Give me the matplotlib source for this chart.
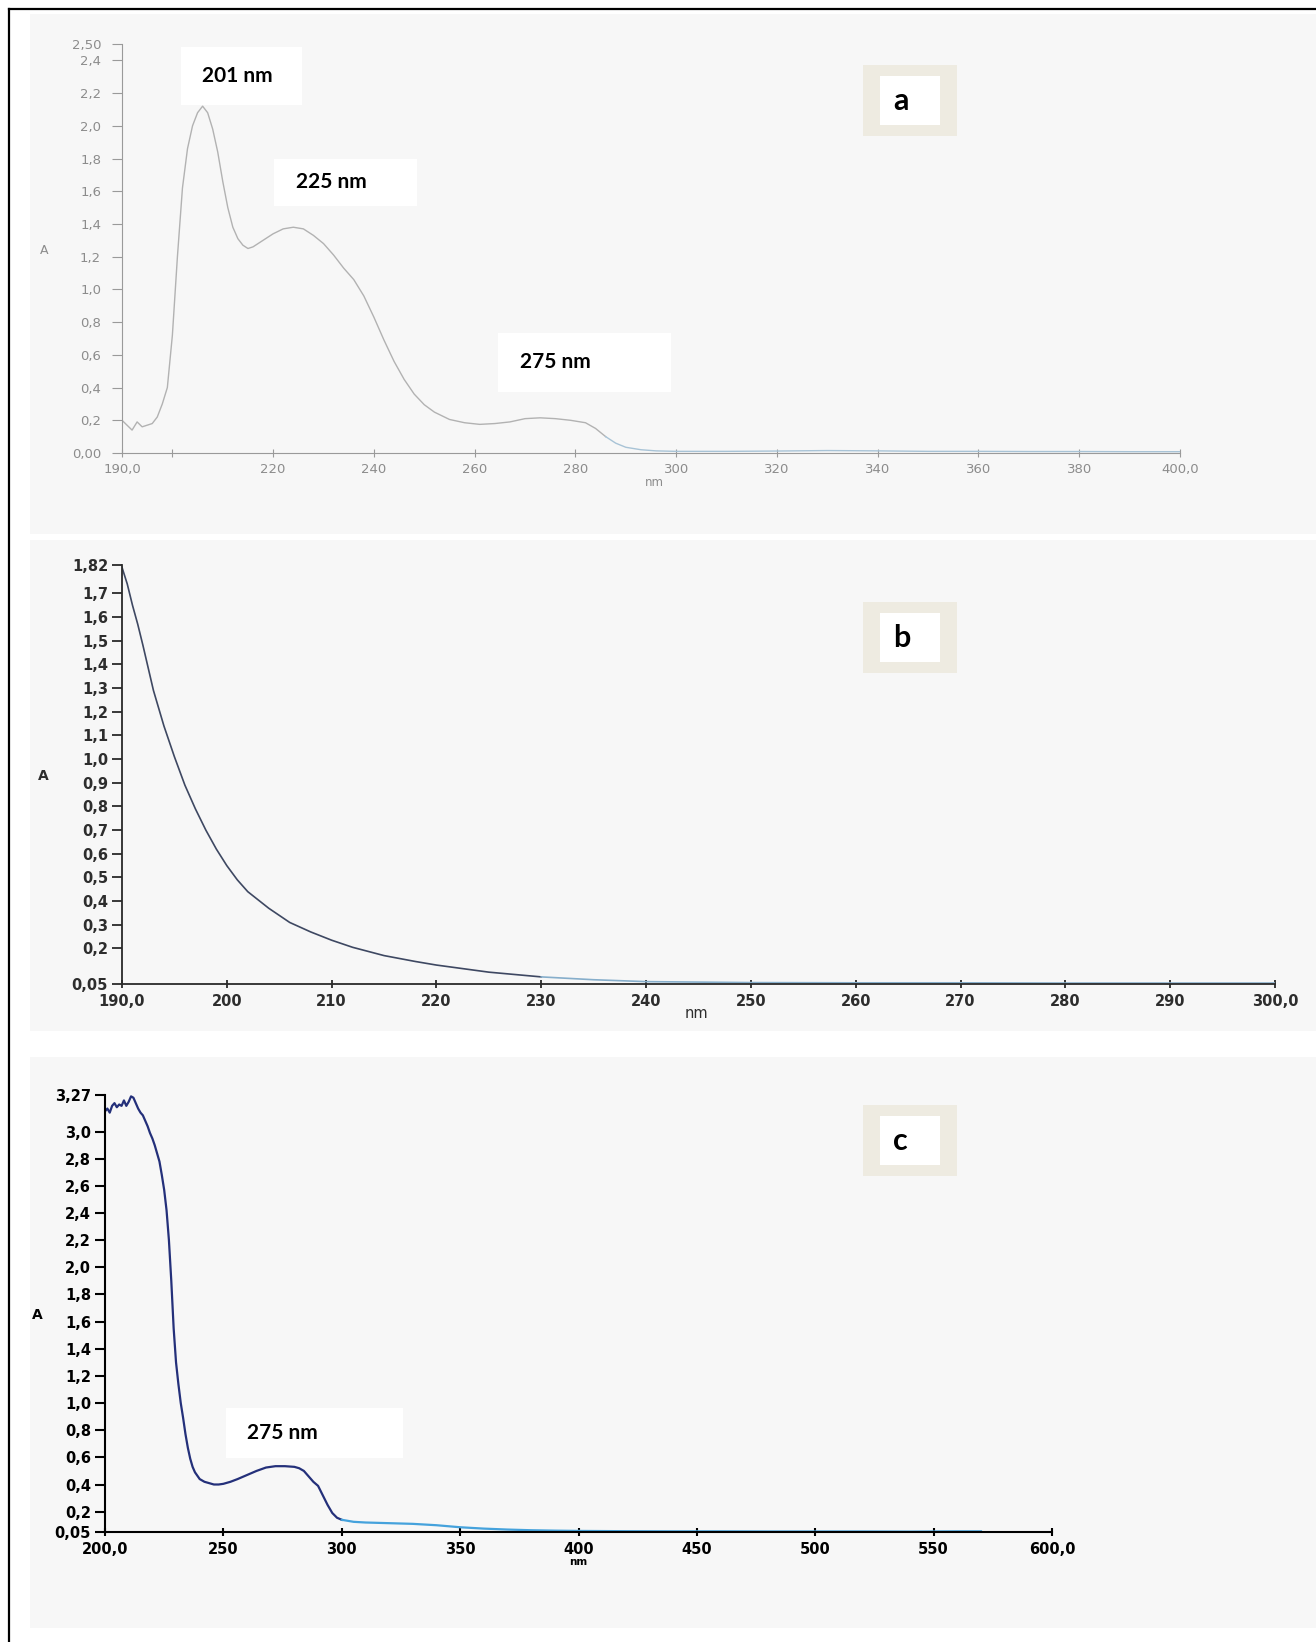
import numpy as np
import matplotlib.pyplot as plt
from matplotlib.patches import Rectangle

# ---- panel a : A vs nm, 190-400 ----
a_nm = [190, 191, 192, 193, 194, 195, 196, 197, 198, 199, 200, 201, 202, 203,
        204, 205, 206, 207, 208, 209, 210, 211, 212, 213, 214, 215, 216, 218,
        220, 222, 224, 226, 228, 230, 232, 234, 236, 238, 240, 242, 244, 246,
        248, 250, 252, 255, 258, 261, 264, 267, 270, 273, 276, 279, 282, 284,
        286, 288, 290, 293, 296, 300, 310, 320, 330, 340, 350, 360, 370, 380,
        390, 400]
a_abs = [0.20, 0.17, 0.14, 0.19, 0.16, 0.17, 0.18, 0.22, 0.30, 0.40, 0.72, 1.20,
         1.62, 1.86, 2.00, 2.08, 2.12, 2.08, 1.98, 1.84, 1.66, 1.50, 1.38, 1.31,
         1.27, 1.25, 1.26, 1.30, 1.34, 1.37, 1.38, 1.37, 1.33, 1.28, 1.21, 1.13,
         1.06, 0.96, 0.83, 0.69, 0.56, 0.45, 0.36, 0.295, 0.25, 0.205, 0.185,
         0.175, 0.18, 0.19, 0.21, 0.215, 0.21, 0.20, 0.185, 0.15, 0.10, 0.06,
         0.035, 0.02, 0.013, 0.010, 0.010, 0.012, 0.015, 0.013, 0.010, 0.010,
         0.009, 0.009, 0.008, 0.008]
a_xticks = [190, 200, 220, 240, 260, 280, 300, 320, 340, 360, 380, 400]
a_xlabels = ["190,0", "", "220", "240", "260", "280", "300", "320", "340",
             "360", "380", "400,0"]
a_yticks = [0, 0.2, 0.4, 0.6, 0.8, 1.0, 1.2, 1.4, 1.6, 1.8, 2.0, 2.2, 2.4, 2.5]
a_ylabels = ["0,00", "0,2", "0,4", "0,6", "0,8", "1,0", "1,2", "1,4", "1,6",
             "1,8", "2,0", "2,2", "2,4", "2,50"]

# ---- panel b : 190-300 ----
b_nm = [190, 190.5, 191, 191.5, 192, 193, 194, 195, 196, 197, 198, 199, 200,
        201, 202, 204, 206, 208, 210, 212, 215, 218, 220, 225, 230, 235, 240,
        250, 260, 270, 280, 290, 300]
b_abs = [1.81, 1.74, 1.65, 1.57, 1.48, 1.29, 1.14, 1.01, 0.89, 0.79, 0.70, 0.62,
         0.55, 0.49, 0.44, 0.37, 0.31, 0.27, 0.235, 0.205, 0.17, 0.145, 0.13,
         0.10, 0.08, 0.068, 0.06, 0.056, 0.055, 0.055, 0.054, 0.054, 0.054]
b_xticks = [190, 200, 210, 220, 230, 240, 250, 260, 270, 280, 290, 300]
b_xlabels = ["190,0", "200", "210", "220", "230", "240", "250", "260", "270",
             "280", "290", "300,0"]
b_yticks = [0.05, 0.2, 0.3, 0.4, 0.5, 0.6, 0.7, 0.8, 0.9, 1.0, 1.1, 1.2, 1.3,
            1.4, 1.5, 1.6, 1.7, 1.82]
b_ylabels = ["0,05", "0,2", "0,3", "0,4", "0,5", "0,6", "0,7", "0,8", "0,9",
             "1,0", "1,1", "1,2", "1,3", "1,4", "1,5", "1,6", "1,7", "1,82"]

# ---- panel c : 200-600 ----
c_nm = [200, 201, 202, 203, 204, 205, 206, 207, 208, 209, 210, 211, 212, 213,
        214, 215, 216, 217, 218, 219, 220, 221, 222, 223, 224, 225, 226, 227,
        228, 229, 230, 231, 232, 233, 234, 235, 236, 237, 238, 240, 242, 244,
        246, 248, 250, 253, 256, 260, 264, 268, 272, 276, 280, 282, 284, 286,
        288, 290, 292, 294, 296, 298, 300, 305, 310, 320, 330, 340, 350, 360,
        370, 380, 390, 400, 420, 440, 460, 480, 500, 520, 540, 560, 570]
c_abs = [3.15, 3.17, 3.14, 3.19, 3.21, 3.18, 3.20, 3.19, 3.23, 3.19, 3.22, 3.26,
         3.25, 3.21, 3.17, 3.14, 3.12, 3.08, 3.04, 2.99, 2.95, 2.90, 2.84, 2.78,
         2.68, 2.57, 2.42, 2.20, 1.90, 1.55, 1.30, 1.14, 1.00, 0.89, 0.77, 0.67,
         0.59, 0.53, 0.49, 0.44, 0.42, 0.41, 0.40, 0.40, 0.405, 0.42, 0.44, 0.47,
         0.50, 0.525, 0.535, 0.535, 0.53, 0.52, 0.50, 0.46, 0.42, 0.39, 0.32,
         0.25, 0.19, 0.155, 0.14, 0.125, 0.12, 0.115, 0.11, 0.10, 0.085, 0.075,
         0.068, 0.063, 0.060, 0.058, 0.056, 0.055, 0.055, 0.054, 0.054, 0.054,
         0.053, 0.055, 0.055]
c_xticks = [200, 250, 300, 350, 400, 450, 500, 550, 600]
c_xlabels = ["200,0", "250", "300", "350", "400", "450", "500", "550", "600,0"]
c_yticks = [0.05, 0.2, 0.4, 0.6, 0.8, 1.0, 1.2, 1.4, 1.6, 1.8, 2.0, 2.2, 2.4,
            2.6, 2.8, 3.0, 3.27]
c_ylabels = ["0,05", "0,2", "0,4", "0,6", "0,8", "1,0", "1,2", "1,4", "1,6",
             "1,8", "2,0", "2,2", "2,4", "2,6", "2,8", "3,0", "3,27"]

W, H = 1316, 1642
fig = plt.figure(figsize=(W / 100, H / 100), dpi=100)
fig.patch.set_facecolor("white")

TICKFONT = "DejaVu Sans"
NOTEFONT = "Lato"


def px_axes(x0, x1, ytop, ybot, z=1):
    ax = fig.add_axes([x0 / W, 1 - ybot / H, (x1 - x0) / W, (ybot - ytop) / H], zorder=z)
    ax.patch.set_alpha(0)
    return ax


# background layer: scanned panels + frame
bg = fig.add_axes([0, 0, 1, 1], zorder=0)
bg.set_xlim(0, W)
bg.set_ylim(H, 0)
bg.axis("off")
for top, bot in [(14, 534), (540, 1031), (1057, 1628)]:
    bg.add_patch(Rectangle((30, top), W - 30, bot - top, facecolor="#f7f7f7", edgecolor="none"))
bg.plot([9, W], [9, 9], color="black", lw=1.6)
bg.plot([9, 9], [9, H], color="black", lw=1.6)


def style_panel(ax, xt, xl, yt, yl, color, labcolor, size, weight, lw_axis, ypad=3):
    for s in ["top", "right"]:
        ax.spines[s].set_visible(False)
    for s in ["left", "bottom"]:
        ax.spines[s].set_color(color)
        ax.spines[s].set_linewidth(lw_axis)
    ax.set_xticks(xt)
    ax.set_xticklabels(xl)
    ax.set_yticks(yt)
    ax.set_yticklabels(yl)
    ax.tick_params(axis="y", direction="out", length=7, width=lw_axis, color=color,
                   pad=ypad, labelsize=size, labelcolor=labcolor)
    ax.tick_params(axis="x", direction="inout", length=6, width=lw_axis, color=color,
                   pad=4, labelsize=size, labelcolor=labcolor)
    for t in ax.get_xticklabels() + ax.get_yticklabels():
        t.set_fontfamily(TICKFONT)
        t.set_fontweight(weight)


def two_tone(ax, x, y, split, c1, c2, lw):
    x = np.asarray(x, float)
    y = np.asarray(y, float)
    m1 = x <= split
    m2 = x >= x[m1][-1]
    ax.plot(x[m1], y[m1], color=c1, lw=lw, solid_joinstyle="round")
    ax.plot(x[m2], y[m2], color=c2, lw=lw, solid_joinstyle="round")


# ---- panel a ----
ax_a = px_axes(122, 1180, 44, 453)
two_tone(ax_a, a_nm, a_abs, 286, "#b2b2b2", "#a8c3d6", 1.0)
ax_a.set_xlim(190, 400)
ax_a.set_ylim(0, 2.5)
style_panel(ax_a, a_xticks, a_xlabels, a_yticks, a_ylabels, "#9a9a9a", "#8c8c8c",
            9.5, "normal", 0.8, ypad=8)
ax_a.set_ylabel("A", rotation=0, fontsize=9, color="#8c8c8c", family=TICKFONT)
ax_a.yaxis.set_label_coords(-0.074, 0.48)
ax_a.set_xlabel("nm", fontsize=8.5, color="#8c8c8c", family=TICKFONT)
ax_a.xaxis.set_label_coords(0.503, -0.056)

# ---- panel b ----
ax_b = px_axes(122, 1275, 565, 984)
two_tone(ax_b, b_nm, b_abs, 232, "#3e4862", "#86aecb", 1.2)
ax_b.set_xlim(190, 300)
ax_b.set_ylim(0.05, 1.82)
style_panel(ax_b, b_xticks, b_xlabels, b_yticks, b_ylabels, "#2a2a2a", "#2d2d2d", 10.5, "bold", 1.3)
ax_b.set_ylabel("A", rotation=0, fontsize=10, color="#2d2d2d", family=TICKFONT, fontweight="bold")
ax_b.yaxis.set_label_coords(-0.068, 0.48)
ax_b.set_xlabel("nm", fontsize=10.5, color="#2d2d2d", family=TICKFONT)
ax_b.xaxis.set_label_coords(0.498, -0.053)

# ---- panel c ----
ax_c = px_axes(105, 1052, 1095, 1532)
two_tone(ax_c, c_nm, c_abs, 300, "#24307a", "#45a2dc", 1.6)
ax_c.set_xlim(200, 600)
ax_c.set_ylim(0.05, 3.27)
style_panel(ax_c, c_xticks, c_xlabels, c_yticks, c_ylabels, "black", "black", 10.5, "bold", 1.5)
ax_c.set_ylabel("A", rotation=0, fontsize=10, color="black", family=TICKFONT, fontweight="bold")
ax_c.yaxis.set_label_coords(-0.072, 0.48)
ax_c.set_xlabel("nm", fontsize=7.5, color="black", family=TICKFONT, fontweight="bold")
ax_c.xaxis.set_label_coords(0.50, -0.058)

# ---- overlay: peak notes and panel letters ----
ov = fig.add_axes([0, 0, 1, 1], zorder=5)
ov.set_xlim(0, W)
ov.set_ylim(H, 0)
ov.axis("off")

notes = [  # (box x0, x1, y0, y1, text x, text)
    (181, 302, 47, 105, 202, "201 nm"),
    (274, 417, 159, 206, 296, "225 nm"),
    (498, 671, 333, 392, 520, "275 nm"),
    (226, 403, 1408, 1458, 247, "275 nm"),
]
for x0, x1, y0, y1, tx, txt in notes:
    ov.add_patch(Rectangle((x0, y0), x1 - x0, y1 - y0, facecolor="white", edgecolor="none"))
    ov.text(tx, (y0 + y1) / 2, txt, fontsize=15, fontweight="bold", family=NOTEFONT,
            ha="left", va="center", color="black")

for letter, dy in [("a", 0), ("b", 537), ("c", 1040)]:
    ov.add_patch(Rectangle((863, 65 + dy), 94, 71, facecolor="#eeebe1", edgecolor="none"))
    ov.add_patch(Rectangle((880, 76 + dy), 60, 49, facecolor="white", edgecolor="none"))
    ov.text(893, 101 + dy, letter, fontsize=22, fontweight="bold", family=NOTEFONT,
            ha="left", va="center", color="black")

fig.savefig("out.png", dpi=100, facecolor="white")
